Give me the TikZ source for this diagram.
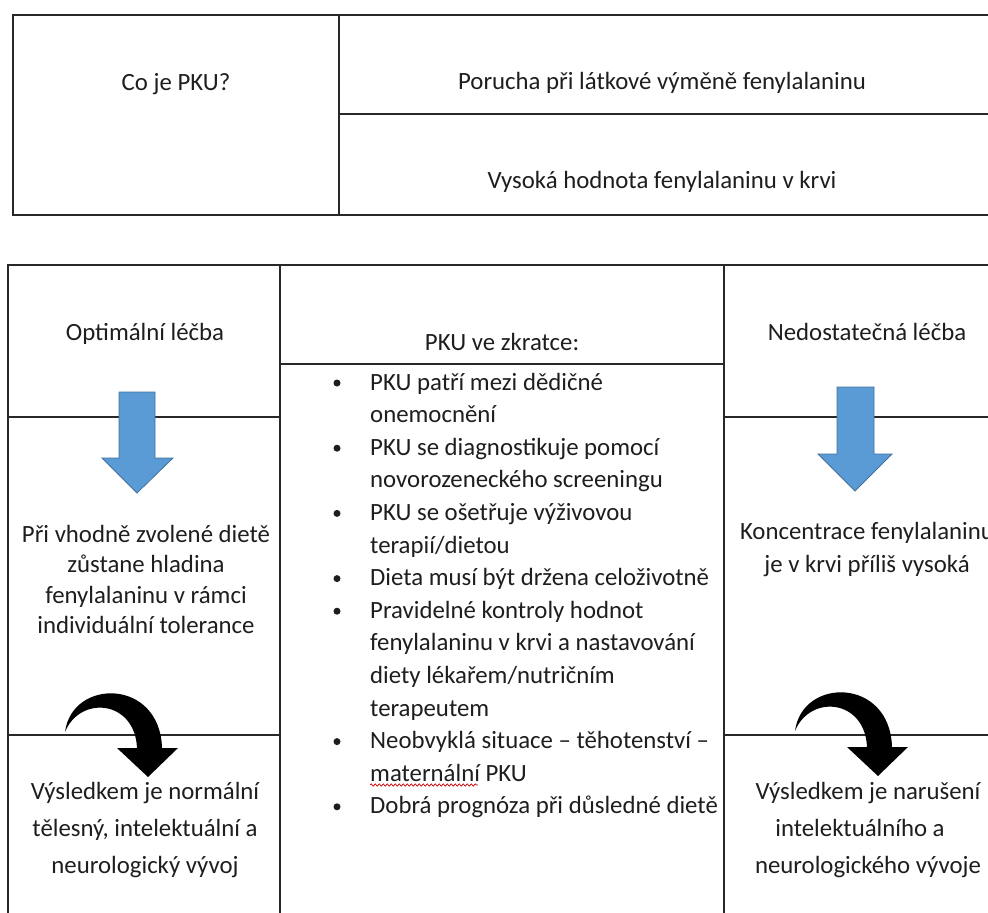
\documentclass[tikz,border=0pt]{standalone}
\usepackage{fontspec}
\setmainfont{Carlito}
\usetikzlibrary{decorations.pathmorphing}
\definecolor{arrowblue}{RGB}{91,155,213}
\definecolor{arrowedge}{RGB}{65,113,156}
\definecolor{ink}{RGB}{30,30,30}
\definecolor{rulecol}{RGB}{40,40,40}
\begin{document}
\begin{tikzpicture}[x=1pt,y=-1pt,
  tline/.style={draw=rulecol, line width=1.6pt},
  txt/.style={inner sep=0pt, anchor=base, text=ink, font=\fontsize{24.8}{30}\selectfont},
  ltxt/.style={txt, anchor=base west},
  bluearrow/.style={fill=arrowblue, draw=arrowedge, line width=0.8pt},
  curvearrow/.style={fill=black, draw=none},
  bulletdot/.style={circle, fill=ink, inner sep=0pt, minimum size=7pt}
]
\path[use as bounding box, fill=white] (0,0) rectangle (988,913);
\clip (0,0) rectangle (988,913);

% ---------- top table ----------
\draw[tline] (13,15) rectangle (1010,215);
\draw[tline] (339,15) -- (339,215);
\draw[tline] (339,114) -- (1010,114);
\node[txt] (q)  at (176,90)  {Co je PKU?};
\node[txt] (a1) at (662,89)  {Porucha při látkové výměně fenylalaninu};
\node[txt] (a2) at (662,188) {Vysoká hodnota fenylalaninu v krvi};

% ---------- bottom table ----------
\draw[tline] (8,1000) -- (8,265) -- (1010,265);
\draw[tline] (8,417) -- (280,417);
\draw[tline] (724,417) -- (1010,417);
\draw[tline] (8,735) -- (280,735);
\draw[tline] (724,735) -- (1010,735);
% centre box
\draw[tline] (280,1000) -- (280,265);
\draw[tline] (724,265) -- (724,1000);
\draw[tline] (280,364) -- (724,364);

% headers
\node[txt] (hl) at (145,340) {Optimální léčba};
\node[txt] (hc) at (502,350) {PKU ve zkratce:};
\node[txt] (hr) at (867,340) {Nedostatečná léčba};

% blue arrows
\draw[bluearrow] (119,392) -- (155,392) -- (155,458) -- (173,458) -- (137,493)
  -- (102,458) -- (119,458) -- cycle;
\draw[bluearrow] (837,387) -- (874,387) -- (874,454) -- (892,454) -- (855,491)
  -- (818,454) -- (837,454) -- cycle;

% left column texts
\node[txt] (l1) at (146,542)   {Při vhodně zvolené dietě};
\node[txt] (l2) at (146,572.5) {zůstane hladina};
\node[txt] (l3) at (146,603)   {fenylalaninu v rámci};
\node[txt] (l4) at (146,633.5) {individuální tolerance};

\node[txt] (b1) at (145,799) {Výsledkem je normální};
\node[txt] (b2) at (145,836) {tělesný, intelektuální a};
\node[txt] (b3) at (145,873) {neurologický vývoj};

% right column texts
\node[txt] (r1) at (867,539) {Koncentrace fenylalaninu};
\node[txt] (r2) at (867,572) {je v krvi příliš vysoká};

\node[txt] (c1) at (868,799) {Výsledkem je narušení};
\node[txt] (c2) at (860,836) {intelektuálního a};
\node[txt] (c3) at (868,873) {neurologického vývoje};

% curved black arrows
\fill[curvearrow] (65,732) .. controls (72,678) and (160,678) .. (162,748)
  -- (178,748) -- (148,777) -- (117,748) -- (137,748)
  .. controls (135,700) and (80,695) .. (65,732) -- cycle;
\fill[curvearrow, shift={(730,-1)}] (65,732) .. controls (72,678) and (160,678) .. (162,748)
  -- (178,748) -- (148,777) -- (117,748) -- (137,748)
  .. controls (135,700) and (80,695) .. (65,732) -- cycle;

% bullet list
\foreach \k/\t in {0/PKU patří mezi dědičné,
                   1/onemocnění,
                   2/PKU se diagnostikuje pomocí,
                   3/novorozeneckého screeningu,
                   4/PKU se ošetřuje výživovou,
                   5/terapií\slash dietou,
                   6/Dieta musí být držena celoživotně,
                   7/Pravidelné kontroly hodnot,
                   8/fenylalaninu v krvi a nastavování,
                   9/diety lékařem\slash nutričním,
                   10/terapeutem,
                   11/Neobvyklá situace – těhotenství –,
                   12/maternální PKU,
                   13/Dobrá prognóza při důsledné dietě}{
  \node[ltxt] (li\k) at (370,{390+32.6*\k}) {\t};
}
\foreach \k in {0,2,4,6,7,11,13}{
  \node[bulletdot] (bu\k) at (337,{383+32.6*\k}) {};
}
% spell-check squiggle
\draw[red!80!black, line width=0.7pt, decorate,
  decoration={snake, amplitude=1.1pt, segment length=4pt}] (370,785) -- (478,785);
\end{tikzpicture}
\end{document}
